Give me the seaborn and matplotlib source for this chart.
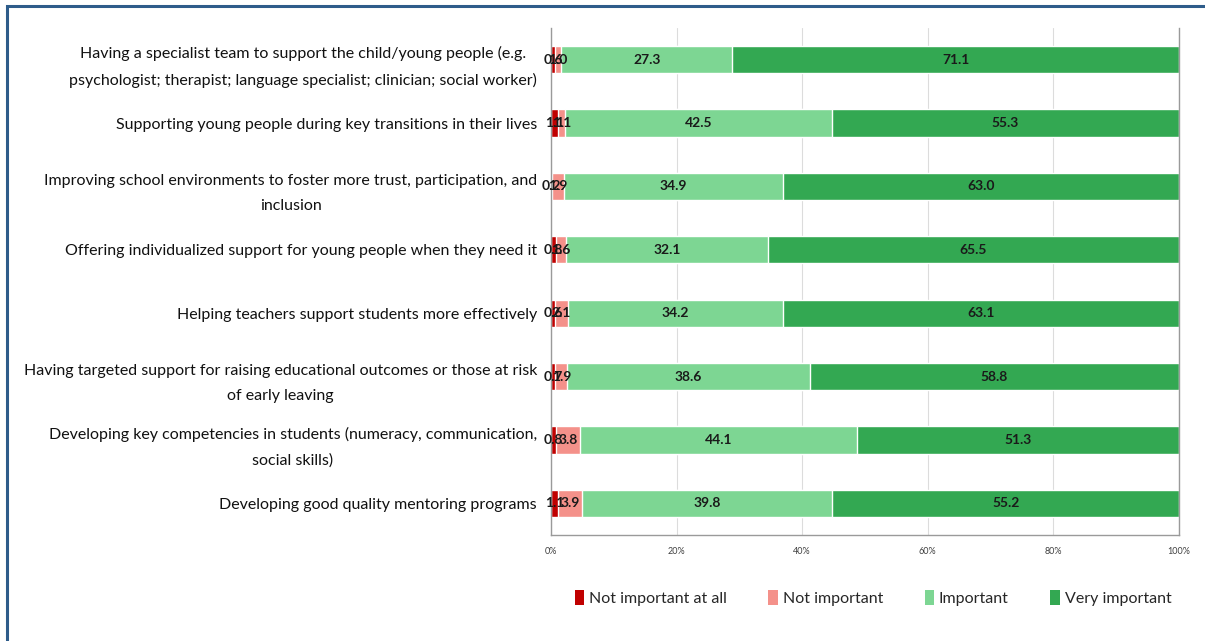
import matplotlib
matplotlib.use("Agg")
import matplotlib.pyplot as plt
from matplotlib.patches import Patch, Rectangle
import seaborn as sns
import pandas as pd
import numpy as np

categories = [
    "Having a specialist team to support the child/young people (e.g.\npsychologist; therapist; language specialist; clinician; social worker)",
    "Supporting young people during key transitions in their lives",
    "Improving school environments to foster more trust, participation, and\ninclusion",
    "Offering individualized support for young people when they need it",
    "Helping teachers support students more effectively",
    "Having targeted support for raising educational outcomes or those at risk\nof early leaving",
    "Developing key competencies in students (numeracy, communication,\nsocial skills)",
    "Developing good quality mentoring programs",
]
series_names = ["Not important at all", "Not important", "Important", "Very important"]
not_important_at_all = [0.6, 1.1, 0.2, 0.8, 0.6, 0.7, 0.8, 1.1]
not_important = [1.0, 1.1, 1.9, 1.6, 2.1, 1.9, 3.8, 3.9]
important = [27.3, 42.5, 34.9, 32.1, 34.2, 38.6, 44.1, 39.8]
very_important = [71.1, 55.3, 63.0, 65.5, 63.1, 58.8, 51.3, 55.2]
x_ticks = [0, 20, 40, 60, 80, 100]
x_tick_labels = ["0%", "20%", "40%", "60%", "80%", "100%"]

colors = ["#C00000", "#F4918A", "#7DD693", "#33A852"]

sns.set_style("white")
plt.rcParams["font.family"] = ["Lato", "DejaVu Sans"]

series = [not_important_at_all, not_important, important, very_important]
df = pd.DataFrame({"category": categories})
for name, vals in zip(series_names, series):
    df[name] = vals
cum = df[series_names].cumsum(axis=1)

fig = plt.figure(figsize=(12.05, 6.41), dpi=100)
ax = fig.add_axes([551 / 1205, 1 - 535 / 641, (1179 - 551) / 1205, (535 - 28) / 641])

# stacked bars: draw cumulative totals from the outermost layer inward
for name, color in reversed(list(zip(series_names, colors))):
    sns.barplot(x=cum[name], y=df["category"], orient="h", color=color,
                width=0.43, saturation=1, ax=ax, zorder=2)

# segment value labels
for i in range(len(categories)):
    left = 0.0
    for name in series_names:
        v = df[name].iloc[i]
        ax.text(left + v / 2, i, f"{v:.1f}", ha="center", va="center",
                fontsize=10, fontweight="bold", color="#1a1a1a", zorder=3)
        left += v

ax.set_xlim(0, 100)
ax.set_ylim(len(categories) - 0.5, -0.5)
ax.set_xlabel("")
ax.set_ylabel("")
ax.set_xticks(x_ticks)
ax.set_xticklabels(x_tick_labels, fontsize=6.5, color="#404040")
ax.grid(axis="x", color="#dcdcdc", lw=0.8, zorder=0)
ax.set_axisbelow(True)

ax.spines["top"].set_visible(False)
for s in ["left", "bottom", "right"]:
    ax.spines[s].set_color("#9a9a9a")
    ax.spines[s].set_linewidth(1.0)

ax.tick_params(axis="x", direction="in", length=4, color="#9a9a9a", pad=9)
ax.tick_params(axis="y", which="major", length=0, pad=10)
ax.set_yticks(np.arange(-0.5, len(categories), 1.0), minor=True)
ax.tick_params(axis="y", which="minor", length=5, color="#9a9a9a", direction="out")
for lbl in ax.get_yticklabels():
    lbl.set_fontsize(11.5)
    lbl.set_multialignment("center")
    lbl.set_color("#111111")
    lbl.set_linespacing(2.0)

handles = [Patch(facecolor=c, edgecolor="none") for c in colors]
fig.legend(handles, series_names, loc="center", bbox_to_anchor=(873 / 1205, 1 - 598 / 641),
           ncol=4, frameon=False, fontsize=11.5, handlelength=0.6, handleheight=1.1,
           handletextpad=0.3, columnspacing=2.6)

fig.add_artist(Rectangle((7 / 1205, -0.2), 1.5, 1.2 - 6 / 641, transform=fig.transFigure,
                         fill=False, edgecolor="#2E5C8A", lw=2.2))

fig.savefig("out.png", dpi=100)
